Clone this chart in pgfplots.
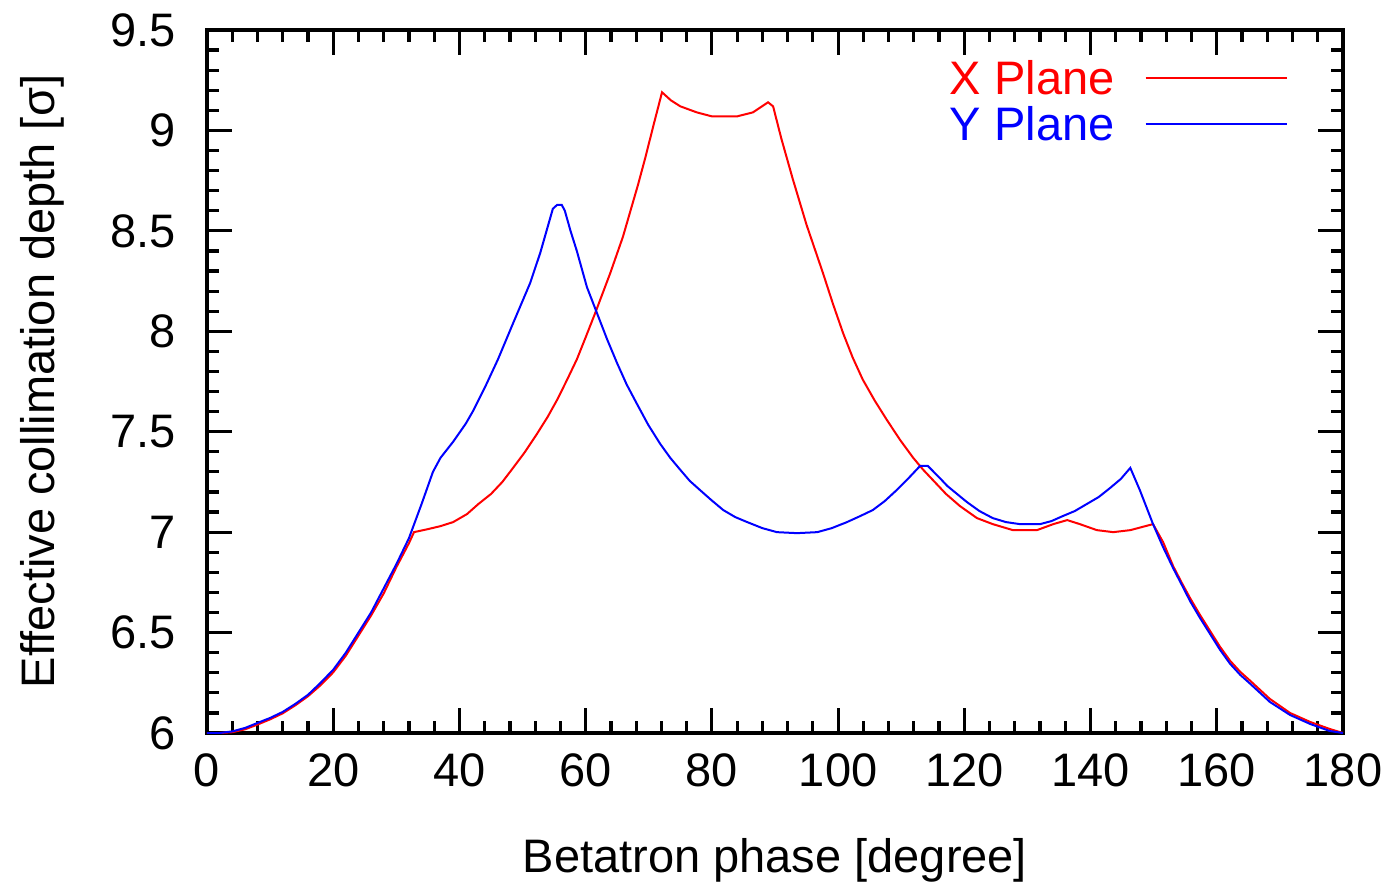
\documentclass[border=0pt]{standalone}
\usepackage{fontspec}
\setmainfont{Liberation Sans}
\usepackage{pgfplots}
\pgfplotsset{compat=1.18}
\begin{document}
\fontsize{23.5}{28}\selectfont
\begin{tikzpicture}
\path[use as bounding box] (-103.5pt,-78.5pt) rectangle (590.5pt,366.5pt);
\begin{axis}[
  at={(0,0)}, anchor=south west,
  scale only axis, width=568pt, height=351.5pt,
  xmin=0, xmax=180, ymin=6, ymax=9.5,
  xtick={0,20,40,60,80,100,120,140,160,180},
  ytick={6,6.5,7,7.5,8,8.5,9,9.5},
  minor x tick num=4, minor y tick num=4,
  major tick length=12.5pt, minor tick length=6pt,
  tick style={black, line width=1.6pt},
  axis line style={line width=2pt},
  /pgf/number format/assume math mode=true,
  ticklabel style={font=\fontsize{23.5}{28}\selectfont, inner sep=0pt},
  xticklabel shift=10pt, yticklabel shift=15.5pt,
  xlabel={Betatron phase [degree]},
  ylabel={Effective collimation depth [σ]},
  label style={font=\fontsize{23.5}{28}\selectfont, inner sep=0pt},
  xlabel style={at={(axis description cs:0.5,-0.1805)}, anchor=center},
  ylabel style={at={(axis description cs:-0.1452,0.5)}, anchor=center},
  legend plot pos=right,
  legend cell align=left,
  legend style={draw=none, fill=none, inner sep=0pt, at={(0.9516,0.957)}, anchor=north east,
    column sep=15pt, row sep=6pt,
    font=\fontsize{23.5}{28}\selectfont,
    nodes={inner sep=0pt, text height=17pt, text depth=0pt}},
  legend image code/.code={\draw[#1] (0pt,0pt) -- (70.5pt,0pt);},
]
\addplot[red, line width=1pt] coordinates {
(0,6.0) (2,6.0) (4,6.004) (6,6.018) (8,6.042) (10,6.068) (12,6.098) (14,6.138)
(16,6.183) (18,6.238) (20,6.302) (22,6.385) (24,6.485) (26,6.585) (28,6.695)
(30,6.825) (32,6.945) (32.8,7.0) (35,7.015) (37,7.03) (39,7.05) (41.2,7.09)
(43,7.14) (45,7.19) (46.8,7.25) (48.5,7.32) (50.4,7.40) (52.3,7.49) (54,7.575) (55.5,7.66)
(57,7.755) (58.6,7.86) (60,7.97) (61.5,8.09) (62.7,8.19) (63.9,8.29) (65.9,8.47)
(67.1,8.60) (68.3,8.73) (69.5,8.87) (70.7,9.02) (72.1,9.19) (73.5,9.15) (75,9.12)
(77.6,9.09) (80,9.07) (82,9.07) (84,9.07) (86.5,9.09) (88.9,9.14) (89.7,9.12)
(91,8.96) (92.8,8.76) (95,8.53) (96.3,8.41) (97.6,8.29) (99.2,8.135) (100.8,7.99)
(102.3,7.87) (103.9,7.76) (105.8,7.655) (107.7,7.56) (109.8,7.46)
(111.9,7.37) (113.5,7.31) (115,7.26) (117.1,7.19) (119.3,7.13) (122,7.07) (124.5,7.04) (127.7,7.01)
(131.5,7.01) (134.1,7.04) (136.3,7.06) (138.3,7.04) (141,7.01) (143.6,7.0)
(146.3,7.01) (149.9,7.04) (151.5,6.95) (153.1,6.83) (154.5,6.745) (155.8,6.67) (157.3,6.59) (158.9,6.51)
(160.5,6.43) (162.1,6.36) (163.7,6.305) (165.3,6.26) (168.4,6.17) (171.6,6.10) (174.8,6.055) (177.9,6.02) (180,6.0)
};
\addlegendentry[text=red]{X Plane}
\addplot[blue, line width=1pt] coordinates {
(0,6.0) (2,6.0) (4,6.008) (6,6.025) (8,6.05) (10,6.075) (12,6.105) (14,6.145)
(16,6.19) (18,6.25) (20,6.315) (22,6.40) (24,6.50) (26,6.60) (28,6.72) (30,6.84)
(32,6.97) (34,7.14) (35.8,7.30) (37,7.37) (39,7.45) (41,7.54) (42.1,7.60) (44.1,7.725)
(46.1,7.86) (48.5,8.04) (51.2,8.24) (52.8,8.39) (54.8,8.61) (55.5,8.63) (56.2,8.63)
(56.7,8.60) (57.6,8.50) (58.6,8.40) (60.2,8.22) (61.8,8.09) (63.4,7.96) (65.0,7.84) (66.5,7.735) (68.1,7.64)
(69.9,7.535) (71.8,7.44) (73.4,7.37) (75.0,7.31) (76.5,7.255) (78.1,7.21) (79.9,7.16) (81.8,7.11)
(83.7,7.075) (85.6,7.05) (88,7.02) (90.3,7.00) (93.5,6.995) (96.7,7.00) (99,7.02) (101.4,7.05)
(103.5,7.08) (105.5,7.11) (107.4,7.155) (109.3,7.21) (111.2,7.27) (113.0,7.33) (114.2,7.33) (116.1,7.27) (117.3,7.23)
(120.4,7.15) (122.4,7.105) (124.5,7.07) (126.6,7.05) (128.8,7.04) (132.0,7.04) (133.8,7.055) (135.6,7.08) (137.5,7.105) (139.4,7.14)
(141.3,7.175) (143.1,7.22) (144.8,7.265) (146.3,7.32) (147.8,7.21) (149.9,7.04) (151.5,6.925) (153.1,6.82) (154.5,6.735) (155.8,6.655)
(157.3,6.575) (158.9,6.495) (160.5,6.415) (162.1,6.345) (163.7,6.29) (165.3,6.245) (168.4,6.155) (171.6,6.09) (174.8,6.045)
(177.9,6.01) (180,6.0)
};
\addlegendentry[text=blue]{Y Plane}
\end{axis}
\end{tikzpicture}
\end{document}
